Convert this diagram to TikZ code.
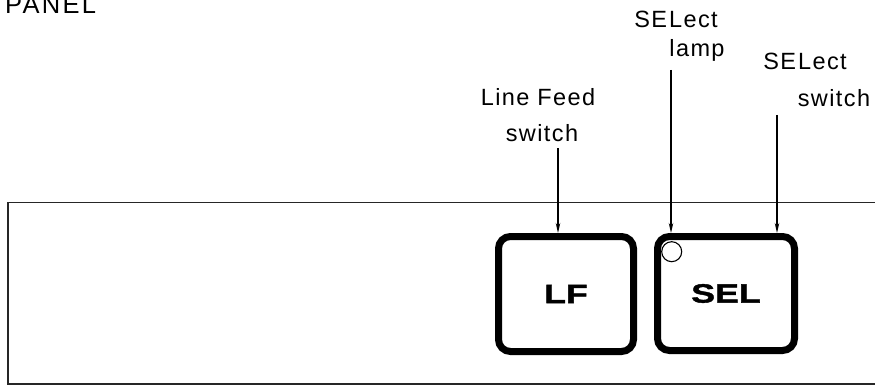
\documentclass[tikz,border=0pt]{standalone}
\usepackage{fontspec}
\setmainfont{Liberation Sans}[LetterSpace=6]
\newfontfamily\keyfont{Liberation Sans}[FakeStretch=1.35,FakeBold=1.5]
\usetikzlibrary{arrows.meta}
\begin{document}
\begin{tikzpicture}[x=1pt,y=-1pt,
  lbl/.style={inner sep=0pt,anchor=base,font=\fontsize{23.5}{25}\selectfont},
  keybox/.style={draw,line width=7pt,rounded corners=12pt,inner sep=0pt,
    font=\keyfont\bfseries\fontsize{26.5}{28}\selectfont},
  frameline/.style={line width=1.3pt,black!85},
  pointer/.style={line width=1.1pt,-{Stealth[length=10pt,width=4.5pt]}}]
\clip (0,0) rectangle (875,385);
\fill[white] (0,0) rectangle (875,385);
% panel heading
\node[lbl,anchor=base west,font=\addfontfeature{LetterSpace=9}\fontsize{25.5}{27}\selectfont] (panel) at (5,13.3) {PANEL};
% panel frame
\coordinate (ftl) at (8,202.5);
\coordinate (ftr) at (875,202.5);
\coordinate (fbl) at (8,384);
\coordinate (fbr) at (875,384);
\draw[frameline] (ftr) -- (ftl) -- (fbl) -- (fbr);
% keys
\node[keybox,minimum width=135pt,minimum height=115pt] (lf) at (566,294) {LF};
\node[keybox,minimum width=137pt,minimum height=114pt] (sel) at (726,293.5) {SEL};
\node[draw,circle,fill=white,line width=1.1pt,minimum size=20pt,inner sep=0pt] (lamp) at (671.7,251.7) {};
% labels
\node[lbl] (lfa) at (538,106) {Line Feed};
\node[lbl] (lfb) at (542,142) {switch};
\node[lbl] (sla) at (676,28) {SE\kern2pt Lect};
\node[lbl] (slb) at (697,57) {lamp};
\node[lbl] (ssa) at (805,70) {SE\kern2pt Lect};
\node[lbl] (ssb) at (834,106.5) {switch};
% pointers
\coordinate (plf) at (558,148);
\coordinate (plamp) at (671,70);
\coordinate (psel) at (777,115);
\draw[pointer] (plf) -- (plf |- lf.north);
\draw[pointer] (plamp) -- (plamp |- sel.north);
\draw[pointer] (psel) -- (psel |- sel.north);
\end{tikzpicture}
\end{document}
